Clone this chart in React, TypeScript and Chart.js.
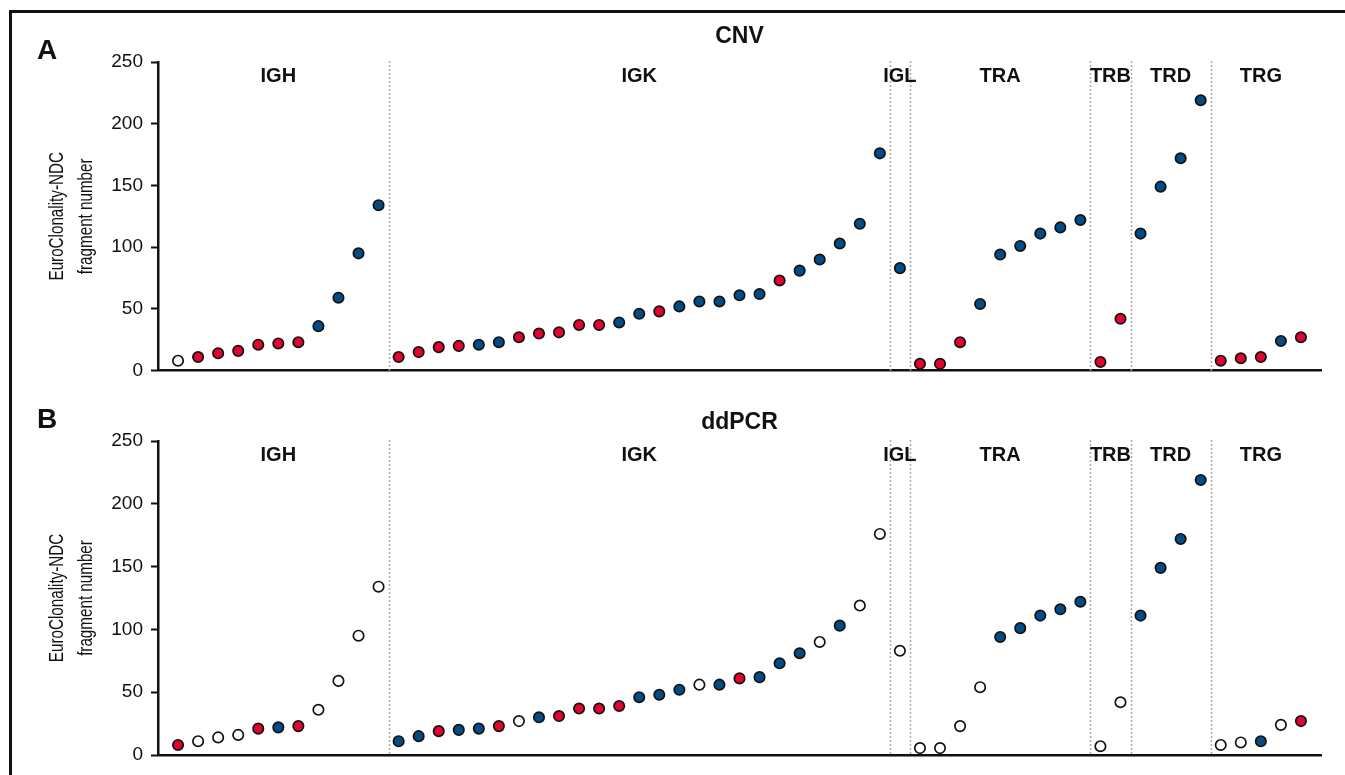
import React, { useEffect, useRef } from 'react';
import { Chart, registerables } from 'chart.js';

Chart.register(...registerables);

// ---- data ----
const GROUPS = ['IGH', 'IGK', 'IGL', 'TRA', 'TRB', 'TRD', 'TRG'];
const IGH_FRAGMENTS = [8, 11, 14, 16, 21, 22, 23, 36, 59, 95, 134];
const IGK_FRAGMENTS = [11, 15, 19, 20, 21, 23, 27, 30, 31, 37, 37, 39, 46, 48, 52, 56, 56, 61, 62, 73, 81, 90, 103, 119, 176];
const IGL_FRAGMENTS = [83];
const TRA_FRAGMENTS = [5.5, 5.5, 23, 54, 94, 101, 111, 116, 122];
const TRB_FRAGMENTS = [7, 42];
const TRD_FRAGMENTS = [111, 149, 172, 219];
const TRG_FRAGMENTS = [8, 10, 11, 24, 27];
const GROUP_VALUES = [IGH_FRAGMENTS, IGK_FRAGMENTS, IGL_FRAGMENTS, TRA_FRAGMENTS, TRB_FRAGMENTS, TRD_FRAGMENTS, TRG_FRAGMENTS];

// R = red, B = blue, O = open (white)
const CNV_STATUS = ['ORRRRRRBBBB', 'RRRRBBRRRRRBBRBBBBBRBBBBB', 'B', 'RRRBBBBBB', 'RR', 'BBBB', 'RRRBR'];
const DDPCR_STATUS = ['ROOORBROOOO', 'BBRBBROBRRRRBBBOBRBBBOBOO', 'O', 'OOOOBBBBB', 'OO', 'BBBB', 'OOBOR'];

const Y_TICKS = [0, 50, 100, 150, 200, 250];
const Y_LABEL = ['EuroClonality-NDC', 'fragment number'];

const RED = '#E4032E';
const BLUE = '#014C87';
const INK = '#111111';
const SANS = "'Liberation Sans', Arial, Helvetica, sans-serif";

function buildPoints(status: string[]) {
  const pts: { x: number; y: number }[] = [];
  const fills: string[] = [];
  let idx = 0;
  GROUP_VALUES.forEach((vals, g) => {
    vals.forEach((v, i) => {
      pts.push({ x: idx, y: v });
      const c = status[g][i];
      fills.push(c === 'R' ? RED : c === 'B' ? BLUE : '#ffffff');
      idx++;
    });
  });
  return { pts, fills, total: idx };
}

type PanelCfg = {
  status: string[];
  title: string;
  letter: string;
  titleY: number;
  letterY: number;
  padTop: number;
  padBottom: number;
};

function makePlugin(cfg: PanelCfg) {
  return {
    id: 'panelAnnot',
    beforeDatasetsDraw(chart: any) {
      const { ctx, chartArea } = chart;
      const xs = chart.scales.x;
      ctx.save();
      ctx.strokeStyle = '#ababab';
      ctx.lineWidth = 1.5;
      ctx.setLineDash([2, 2]);
      let cum = 0;
      GROUP_VALUES.forEach((vals, g) => {
        cum += vals.length;
        if (g < GROUP_VALUES.length - 1) {
          const px = Math.round(xs.getPixelForValue(cum - 0.5)) + 0.5;
          ctx.beginPath();
          ctx.moveTo(px, chartArea.top - 1);
          ctx.lineTo(px, chartArea.bottom);
          ctx.stroke();
        }
      });
      ctx.restore();
    },
    afterDraw(chart: any) {
      const { ctx, chartArea } = chart;
      const xs = chart.scales.x;
      ctx.save();
      ctx.fillStyle = INK;
      // group labels
      ctx.font = `bold 20px ${SANS}`;
      ctx.textAlign = 'center';
      ctx.textBaseline = 'middle';
      let start = 0;
      GROUP_VALUES.forEach((vals, g) => {
        const center = start + (vals.length - 1) / 2;
        ctx.fillText(GROUPS[g], xs.getPixelForValue(center), chartArea.top + 14);
        start += vals.length;
      });
      // title
      ctx.font = `bold 23px ${SANS}`;
      ctx.fillText(cfg.title, (chartArea.left + chartArea.right) / 2, cfg.titleY);
      // panel letter
      ctx.font = `bold 28px ${SANS}`;
      ctx.textAlign = 'left';
      ctx.fillText(cfg.letter, 37, cfg.letterY);
      // y label (condensed)
      const cy = (chartArea.top + chartArea.bottom) / 2;
      ctx.font = `20px ${SANS}`;
      ctx.textAlign = 'center';
      [57, 86].forEach((x, i) => {
        ctx.save();
        ctx.translate(x, cy);
        ctx.rotate(-Math.PI / 2);
        ctx.scale(0.76, 1);
        ctx.fillText(Y_LABEL[i], 0, 0);
        ctx.restore();
      });
      ctx.restore();
    },
  };
}

function Panel({ cfg, top, height }: { cfg: PanelCfg; top: number; height: number }) {
  const ref = useRef<HTMLCanvasElement>(null);
  useEffect(() => {
    if (!ref.current) return;
    const { pts, fills, total } = buildPoints(cfg.status);
    const chart = new Chart(ref.current, {
      type: 'scatter',
      data: {
        datasets: [
          {
            data: pts,
            pointBackgroundColor: fills,
            pointBorderColor: INK,
            pointBorderWidth: 1.7,
            pointRadius: 5.2,
            pointHoverRadius: 5.2,
            clip: false,
          } as any,
        ],
      },
      options: {
        responsive: false,
        animation: false,
        devicePixelRatio: 1,
        events: [],
        layout: { padding: { left: 0, right: 24, top: cfg.padTop, bottom: cfg.padBottom } },
        plugins: { legend: { display: false }, tooltip: { enabled: false }, title: { display: false } },
        scales: {
          x: {
            type: 'linear',
            min: -1,
            max: total,
            grid: { display: false },
            ticks: { display: false },
            border: { display: true, color: INK, width: 2.5 },
            afterFit: (s: any) => {
              s.height = 0;
            },
          },
          y: {
            type: 'linear',
            min: Y_TICKS[0],
            max: Y_TICKS[Y_TICKS.length - 1],
            afterBuildTicks: (s: any) => {
              s.ticks = Y_TICKS.map((v) => ({ value: v }));
            },
            ticks: { color: INK, font: { family: SANS, size: 19 }, padding: 8 },
            grid: {
              display: true,
              drawOnChartArea: false,
              drawTicks: true,
              tickLength: 7,
              tickColor: INK,
              tickWidth: 2,
              color: INK,
            },
            border: { display: true, color: INK, width: 2.5 },
            afterFit: (s: any) => {
              s.width = 158;
            },
          },
        },
      } as any,
      plugins: [makePlugin(cfg)],
    });
    return () => chart.destroy();
  }, [cfg]);
  return (
    <canvas
      ref={ref}
      width={1345}
      height={height}
      style={{ position: 'absolute', left: 0, top, width: 1345, height, display: 'block' }}
    />
  );
}

const PANEL_A: PanelCfg = {
  status: CNV_STATUS,
  title: 'CNV',
  letter: 'A',
  titleY: 37,
  letterY: 51,
  padTop: 62,
  padBottom: 14,
};

const PANEL_B: PanelCfg = {
  status: DDPCR_STATUS,
  title: 'ddPCR',
  letter: 'B',
  titleY: 32.5,
  letterY: 30,
  padTop: 51,
  padBottom: 20,
};

export default function App() {
  return (
    <div
      style={{
        position: 'fixed',
        left: 0,
        top: 0,
        width: 1345,
        height: 775,
        overflow: 'hidden',
        background: '#ffffff',
      }}
    >
      <div
        style={{
          position: 'absolute',
          left: 9,
          top: 10,
          width: 1400,
          height: 800,
          borderTop: '3px solid #111',
          borderLeft: '3px solid #111',
        }}
      />
      <Panel cfg={PANEL_A} top={0} height={390} />
      <Panel cfg={PANEL_B} top={390} height={385} />
    </div>
  );
}
